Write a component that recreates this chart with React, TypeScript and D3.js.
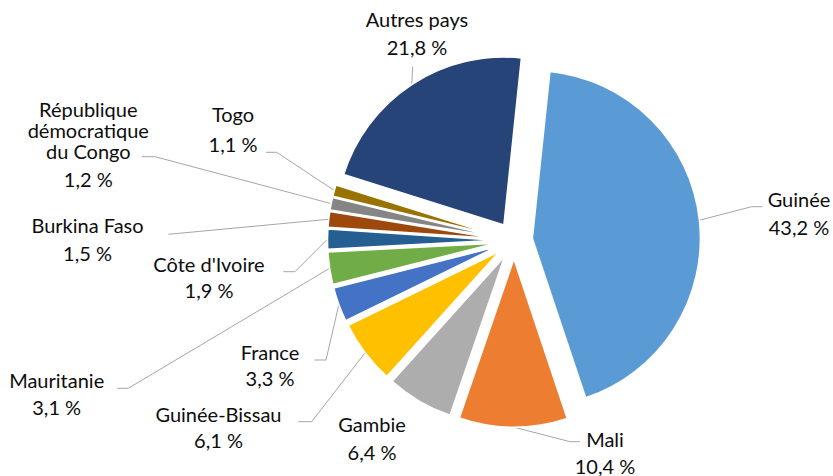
import React, { useEffect, useRef } from "react";
import * as d3 from "d3";

const categories = [
  "Guinée",
  "Mali",
  "Gambie",
  "Guinée-Bissau",
  "France",
  "Mauritanie",
  "Côte d'Ivoire",
  "Burkina Faso",
  "République démocratique du Congo",
  "Togo",
  "Autres pays",
];
const values = [43.2, 10.4, 6.4, 6.1, 3.3, 3.1, 1.9, 1.5, 1.2, 1.1, 21.8];
const valueLabels = ["43,2 %", "10,4 %", "6,4 %", "6,1 %", "3,3 %", "3,1 %", "1,9 %", "1,5 %", "1,2 %", "1,1 %", "21,8 %"];
const nameLines = [
  ["Guinée"],
  ["Mali"],
  ["Gambie"],
  ["Guinée-Bissau"],
  ["France"],
  ["Mauritanie"],
  ["Côte d'Ivoire"],
  ["Burkina Faso"],
  ["République", "démocratique", "du Congo"],
  ["Togo"],
  ["Autres pays"],
];
const colors = [
  "#5B9BD5", "#ED7D31", "#ADADAD", "#FFC000", "#4472C4", "#70AD47",
  "#255E91", "#9E480E", "#858585", "#997300", "#264478",
];

// layout of labels: text centre x, first baseline y, value baseline y,
// leader attach point and elbow (null = no leader)
const labelLayout = [
  { x: 799, y: 206.7, vy: 235, attach: [762.7, 206.7], elbow: [751.7, 206.7] },
  { x: 605, y: 446.7, vy: 474, attach: [580, 441.7], elbow: [570, 441.7] },
  { x: 372, y: 431.7, vy: 460, attach: null, elbow: null },
  { x: 218.5, y: 421.7, vy: 448.3, attach: [298.3, 421.7], elbow: [311.7, 421.7] },
  { x: 270, y: 360, vy: 386, attach: [314.3, 360], elbow: [326, 360] },
  { x: 56.7, y: 388.3, vy: 415, attach: [117.3, 388.3], elbow: [128.3, 388.3] },
  { x: 209, y: 271.7, vy: 298.3, attach: [283.3, 271.7], elbow: [295, 271.7] },
  { x: 87.5, y: 233.3, vy: 260.7, attach: [168.3, 234.3], elbow: [168.3, 234.3] },
  { x: 88.3, y: 116.7, vy: 186.7, attach: [141.7, 156.7], elbow: [155, 156.7] },
  { x: 233, y: 121.7, vy: 152.3, attach: [266, 152.3], elbow: [276.7, 152.3] },
  { x: 417, y: 26.7, vy: 55, attach: [412.7, 66.7], elbow: [412.7, 66.7] },
];

const W = 833;
const H = 476;
const CX = 514;
const CY = 240.5;
const R = 168;
const EXPLODE = 18.5;
const START = (6 * Math.PI) / 180;

export default function App() {
  const ref = useRef<SVGSVGElement | null>(null);

  useEffect(() => {
    const svg = d3.select(ref.current);
    svg.selectAll("*").remove();

    const data = categories.map((c, i) => ({ name: c, value: values[i], i }));
    const pie = d3
      .pie<any>()
      .value((d: any) => d.value)
      .sort(null)
      .startAngle(START)
      .endAngle(START + 2 * Math.PI);
    const arcs = pie(data);
    const arc = d3.arc<any>().innerRadius(0).outerRadius(R);

    const g = svg.append("g");

    // leader lines
    arcs.forEach((a: any) => {
      const L = labelLayout[a.data.i];
      if (!L.attach) return;
      const mid = (a.startAngle + a.endAngle) / 2;
      const dist = R + EXPLODE;
      const px = CX + Math.sin(mid) * dist;
      const py = CY - Math.cos(mid) * dist;
      const pts: [number, number][] = [
        L.attach as [number, number],
        L.elbow as [number, number],
        [px, py],
      ];
      g.append("path")
        .attr("d", d3.line()(pts) as string)
        .attr("fill", "none")
        .attr("stroke", "#A6A6A6")
        .attr("stroke-width", 1);
    });

    // slices
    arcs.forEach((a: any) => {
      const mid = (a.startAngle + a.endAngle) / 2;
      const dx = Math.sin(mid) * EXPLODE;
      const dy = -Math.cos(mid) * EXPLODE;
      g.append("path")
        .attr("d", arc(a) as string)
        .attr("transform", `translate(${CX + dx},${CY + dy})`)
        .attr("fill", colors[a.data.i])
        .attr("stroke", "#FFFFFF")
        .attr("stroke-width", 1.5)
        .attr("stroke-linejoin", "round");
    });

    // labels
    const font = "Lato, 'Open Sans', sans-serif";
    arcs.forEach((a: any) => {
      const i = a.data.i;
      const L = labelLayout[i];
      const t = g
        .append("text")
        .attr("font-family", font)
        .attr("font-size", 20)
        .attr("fill", "#0D0D0D")
        .attr("text-anchor", "middle");
      nameLines[i].forEach((ln, k) => {
        t.append("tspan").attr("x", L.x).attr("y", L.y + k * 21).text(ln);
      });
      t.append("tspan").attr("x", L.x).attr("y", L.vy).text(valueLabels[i]);
    });
  }, []);

  return (
    <svg
      ref={ref}
      width={W}
      height={H}
      style={{ position: "absolute", left: 0, top: 0, background: "#FFFFFF" }}
    />
  );
}
